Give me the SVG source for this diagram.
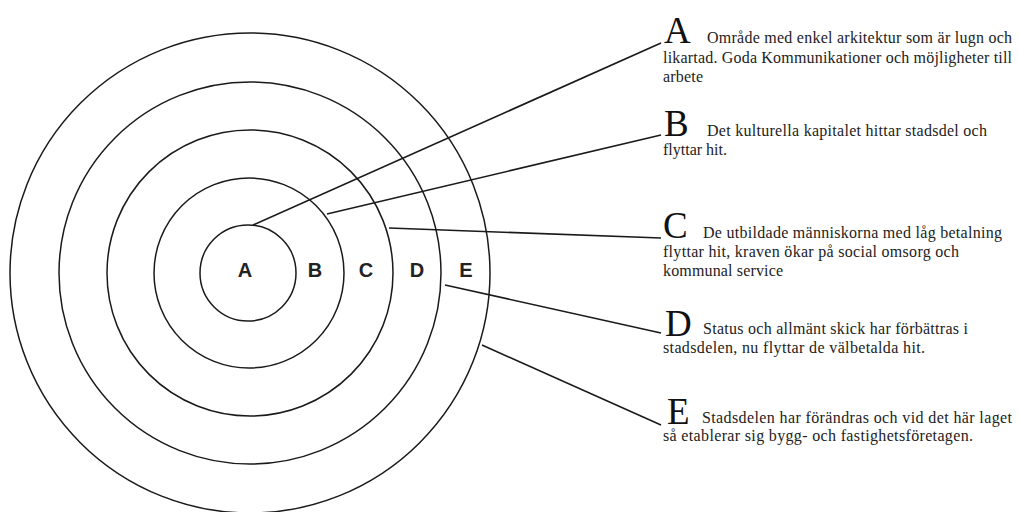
<svg xmlns="http://www.w3.org/2000/svg" width="1019" height="512" viewBox="0 0 1019 512">
<style>
.ring{fill:none;stroke:#1a1a1a;stroke-width:1.5}
.con{stroke:#1a1a1a;stroke-width:1.6;fill:none}
.zl{font-family:"Liberation Sans",Arial,sans-serif;font-weight:bold;font-size:20px;fill:#222;text-anchor:middle}
.big{font-family:"Liberation Serif","Times New Roman",serif;font-size:37px;fill:#111}
.txt{font-family:"Liberation Serif","Times New Roman",serif;font-size:16px;fill:#222}
</style>
<rect width="1019" height="512" fill="#fff"/>
<g id="rings">
<circle class="ring" cx="250" cy="273" r="240"/>
<circle class="ring" cx="250" cy="273" r="191"/>
<circle class="ring" cx="250" cy="273" r="143"/>
<circle class="ring" cx="249" cy="273" r="95"/>
<circle class="ring" cx="248" cy="273" r="48"/>
</g>
<g id="zone-labels">
<text class="zl" x="245" y="277">A</text>
<text class="zl" x="315" y="277">B</text>
<text class="zl" x="366" y="277">C</text>
<text class="zl" x="417" y="277">D</text>
<text class="zl" x="466" y="277">E</text>
</g>
<g id="connectors">
<line class="con" x1="253" y1="225" x2="661" y2="43"/>
<line class="con" x1="327" y1="214" x2="661" y2="135"/>
<line class="con" x1="389" y1="228" x2="661" y2="238"/>
<line class="con" x1="445" y1="285" x2="661" y2="333"/>
<line class="con" x1="482" y1="345" x2="661" y2="425"/>
</g>
<g id="note-A">
<text class="big" x="664" y="43">A</text>
<text class="txt" x="707" y="43" textLength="305">Område med enkel arkitektur som är lugn och</text>
<text class="txt" x="663" y="63" textLength="349">likartad. Goda Kommunikationer och möjligheter till</text>
<text class="txt" x="663" y="82" textLength="40">arbete</text>
</g>
<g id="note-B">
<text class="big" x="664" y="136">B</text>
<text class="txt" x="707" y="136" textLength="280">Det kulturella kapitalet hittar stadsdel och</text>
<text class="txt" x="663" y="155" textLength="64">flyttar hit.</text>
</g>
<g id="note-C">
<text class="big" x="663" y="238">C</text>
<text class="txt" x="703" y="238" textLength="299">De utbildade människorna med låg betalning</text>
<text class="txt" x="663" y="257" textLength="296">flyttar hit, kraven ökar på social omsorg och</text>
<text class="txt" x="663" y="276" textLength="120">kommunal service</text>
</g>
<g id="note-D">
<text class="big" x="665" y="336">D</text>
<text class="txt" x="703" y="334" textLength="265">Status och allmänt skick har förbättras i</text>
<text class="txt" x="663" y="353" textLength="262">stadsdelen, nu flyttar de välbetalda hit.</text>
</g>
<g id="note-E">
<text class="big" x="667" y="424">E</text>
<text class="txt" x="702" y="423" textLength="310">Stadsdelen har förändras och vid det här laget</text>
<text class="txt" x="663" y="441" textLength="310">så etablerar sig bygg- och fastighetsföretagen.</text>
</g>
</svg>
